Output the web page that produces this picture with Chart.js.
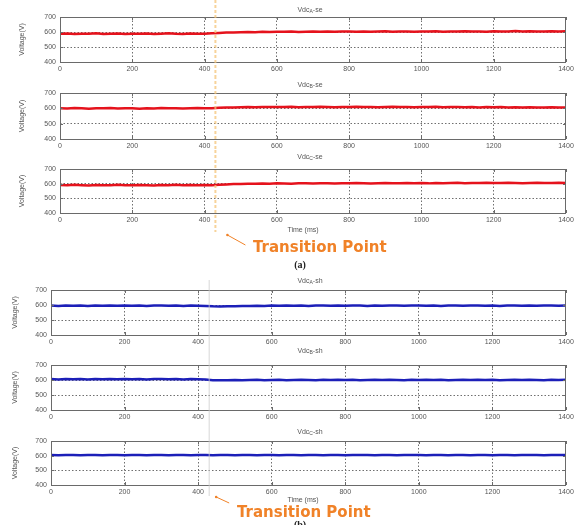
<!DOCTYPE html>
<html><head><meta charset="utf-8">
<script src="https://cdn.jsdelivr.net/npm/chart.js@4/dist/chart.umd.min.js"></script>
<style>
html,body{margin:0;padding:0;background:#fff;width:582px;height:525px;overflow:hidden;position:relative;}
canvas{position:absolute;left:0;display:block;}
</style></head><body>
<canvas id="c1" width="582" height="76" style="top:0px"></canvas>
<canvas id="c2" width="582" height="74" style="top:76px"></canvas>
<canvas id="c3" width="582" height="125" style="top:150px"></canvas>
<canvas id="c4" width="582" height="73" style="top:275px"></canvas>
<canvas id="c5" width="582" height="74" style="top:348px"></canvas>
<canvas id="c6" width="582" height="103" style="top:422px"></canvas>
<script>
// time axis (ms)
const timeMs = [0,20,40,60,80,100,120,140,160,180,200,220,240,260,280,300,320,340,360,380,400,420,440,460,480,500,520,540,560,580,600,620,640,660,680,700,720,740,760,780,800,820,840,860,880,900,920,940,960,980,1000,1020,1040,1060,1080,1100,1120,1140,1160,1180,1200,1220,1240,1260,1280,1300,1320,1340,1360,1380,1400];
const xTicks = [0,200,400,600,800,1000,1200,1400];
const yTicks = [400,500,600,700];
const transitionMs = 430;

// series (V)
const vdcAse = [588,590,587,589,588,591,587,588,590,586, 589,588,590,587,589,591,588,587,590,588, 589,591,594,596,597,598,600,599,601,600, 602,601,603,600,602,604,601,603,602,604, 603,601,604,602,603,605,602,604,603,601, 604,603,605,602,604,603,605,603,604,602, 605,603,604,606,603,605,604,603,605,604, 605];
const vdcBse = [601,599,602,600,598,601,600,602,599,601, 600,598,601,599,602,600,601,599,600,602, 600,601,603,605,606,607,608,607,609,608, 609,608,610,607,609,608,610,609,607,609, 608,610,608,609,607,609,610,608,609,607, 609,608,610,607,608,609,607,608,606,608, 607,608,606,607,605,607,606,605,607,606, 605];
const vdcCse = [591,589,592,590,588,591,590,589,592,590, 589,591,590,588,591,590,592,589,591,590, 591,590,593,595,597,598,599,600,601,600, 602,601,600,602,603,601,602,603,601,603, 602,604,603,601,603,604,602,603,605,603, 604,602,605,603,604,606,603,605,604,606, 605,604,606,605,603,605,606,604,605,606, 605];
const vdcAsh = [596,594,597,595,596,594,597,595,596,595, 597,595,596,594,596,597,595,596,594,596, 595,594,591,590,591,592,593,594,595,594, 596,595,597,595,596,594,596,597,595,596, 595,597,596,594,596,595,597,596,595,596, 597,595,596,594,596,597,595,596,597,595, 596,594,596,597,595,596,595,597,596,595, 596];
const vdcBsh = [606,604,607,605,606,604,607,605,606,605, 607,605,606,604,606,607,605,606,604,606, 605,603,599,598,599,600,599,600,601,599, 600,601,599,600,602,600,599,601,600,602, 600,601,599,600,601,600,602,600,599,601, 600,602,600,601,599,600,601,600,602,600, 601,599,600,602,600,601,600,599,601,600, 601];
const vdcCsh = [604,603,605,604,603,605,604,603,605,604, 603,605,604,603,604,605,603,604,605,603, 604,605,603,604,604,603,605,604,603,605, 604,603,605,604,603,604,605,603,604,605, 603,604,605,604,603,605,604,603,604,605, 604,603,605,604,603,604,605,603,604,604, 603,605,604,603,604,605,604,603,605,604, 604];

const RED = '#e5121c', BLUE = '#1c1fb8', ORANGE = '#f08228';
const FONT = 'Liberation Sans, Arial, sans-serif';
const TOPLINE = {color:'rgba(244,196,120,0.75)', w:2, dash:[3,2]};
const BOTLINE = {color:'rgba(205,205,205,0.8)', w:1, dash:[]};

const panels = [
  {id:'c1', data:vdcAse, sub:'A', suf:'-se', color:RED, left:60, top:17, bottom:62, titleY:10, ylabX:22, vline:TOPLINE, vFrom:0, vTo:76},
  {id:'c2', data:vdcBse, sub:'B', suf:'-se', color:RED, left:60, top:17, bottom:63, titleY:9, ylabX:22, vline:TOPLINE, vFrom:0, vTo:74},
  {id:'c3', data:vdcCse, sub:'C', suf:'-se', color:RED, left:60, top:19, bottom:63, titleY:7, ylabX:22, vline:TOPLINE, vFrom:0, vTo:82,
   timeY:80, arrow:{dx1:12, y1:85, dx2:30, y2:95}, tp:{x:253, y:98}, lab:{text:'(a)', x:300, y:115}},
  {id:'c4', data:vdcAsh, sub:'A', suf:'-sh', color:BLUE, left:51, top:15, bottom:60, titleY:6, ylabX:15, vline:BOTLINE, vFrom:5, vTo:73},
  {id:'c5', data:vdcBsh, sub:'B', suf:'-sh', color:BLUE, left:51, top:17, bottom:62, titleY:3, ylabX:15, vline:BOTLINE, vFrom:0, vTo:74},
  {id:'c6', data:vdcCsh, sub:'C', suf:'-sh', color:BLUE, left:51, top:19, bottom:63, titleY:10, ylabX:15, vline:BOTLINE, vFrom:0, vTo:74,
   timeY:78, arrow:{dx1:7, y1:75, dx2:20, y2:81}, tp:{x:237, y:91}, lab:{text:'(b)', x:300, y:103}},
];

function makeDeco(p){
  return {
    id:'deco',
    afterDatasetsDraw(chart){
      const ctx = chart.ctx, a = chart.chartArea, xs = chart.scales.x, ys = chart.scales.y;
      ctx.save();
      // frame
      ctx.strokeStyle = '#6a6a6a'; ctx.lineWidth = 1;
      ctx.strokeRect(Math.round(a.left)+0.5, Math.round(a.top)+0.5, Math.round(a.right-a.left)-1, Math.round(a.bottom-a.top));
      // inward ticks
      ctx.beginPath();
      xTicks.forEach(v=>{const x=Math.round(xs.getPixelForValue(v))+0.5; ctx.moveTo(x,a.bottom); ctx.lineTo(x,a.bottom-3); ctx.moveTo(x,a.top); ctx.lineTo(x,a.top+3);});
      yTicks.forEach(v=>{const y=Math.round(ys.getPixelForValue(v))+0.5; ctx.moveTo(a.left,y); ctx.lineTo(a.left+3,y); ctx.moveTo(a.right,y); ctx.lineTo(a.right-3,y);});
      ctx.stroke();
      // title with subscript
      ctx.fillStyle = '#555';
      ctx.textBaseline = 'middle';
      ctx.font = '7px ' + FONT;
      const w1 = ctx.measureText('Vdc').width;
      ctx.font = '5px ' + FONT;
      const w2 = ctx.measureText(p.sub).width;
      ctx.font = '7px ' + FONT;
      const w3 = ctx.measureText(p.suf).width;
      let tx = 310 - (w1+w2+w3)/2;
      ctx.textAlign = 'left';
      ctx.fillText('Vdc', tx, p.titleY);
      ctx.font = '5px ' + FONT;
      ctx.fillText(p.sub, tx+w1, p.titleY+2);
      ctx.font = '7px ' + FONT;
      ctx.fillText(p.suf, tx+w1+w2, p.titleY);
      // y label
      ctx.save();
      ctx.translate(p.ylabX, (a.top+a.bottom)/2);
      ctx.rotate(-Math.PI/2);
      ctx.textAlign = 'center';
      ctx.fillText('Voltage(V)', 0, 0);
      ctx.restore();
      // time label
      if (p.timeY){ ctx.textAlign='center'; ctx.fillText('Time (ms)', 303, p.timeY); }
      // transition line
      const tx0 = xs.getPixelForValue(transitionMs);
      ctx.strokeStyle = p.vline.color; ctx.lineWidth = p.vline.w; ctx.setLineDash(p.vline.dash);
      ctx.beginPath(); ctx.moveTo(tx0, p.vFrom); ctx.lineTo(tx0, p.vTo); ctx.stroke();
      ctx.setLineDash([]);
      if (p.arrow){
        ctx.strokeStyle = ORANGE; ctx.lineWidth = 1;
        const x1 = tx0 + p.arrow.dx1, x2 = tx0 + p.arrow.dx2;
        ctx.beginPath(); ctx.moveTo(x1,p.arrow.y1); ctx.lineTo(x2,p.arrow.y2); ctx.stroke();
        ctx.fillStyle = ORANGE;
        ctx.beginPath(); ctx.arc(x1,p.arrow.y1,1.3,0,Math.PI*2); ctx.fill();
        ctx.font = 'bold 15px "DejaVu Sans", sans-serif';
        ctx.textAlign = 'left';
        ctx.fillText('Transition Point', p.tp.x, p.tp.y);
        ctx.fillStyle = '#222';
        ctx.font = 'bold 10px "Liberation Serif", serif';
        ctx.textAlign = 'center';
        ctx.fillText(p.lab.text, p.lab.x, p.lab.y);
      }
      ctx.restore();
    }
  };
}

panels.forEach(p=>{
  const cv = document.getElementById(p.id);
  const H = cv.height;
  new Chart(cv, {
    type:'line',
    data:{ datasets:[{ data: timeMs.map((t,i)=>({x:t, y:p.data[i]})), borderColor:p.color, borderWidth:2.5, pointRadius:0, tension:0 }] },
    options:{
      responsive:false, animation:false, devicePixelRatio:1,
      layout:{ padding:{ left:0, right:16, top:p.top, bottom:0 } },
      plugins:{ legend:{display:false}, tooltip:{enabled:false}, title:{display:false} },
      scales:{
        x:{ type:'linear', min:0, max:1400,
            afterBuildTicks(s){ s.ticks = xTicks.map(v=>({value:v})); },
            afterFit(s){ s.height = H - p.bottom; },
            border:{display:false, dash:[1.5,2]},
            grid:{ drawTicks:false, color:(c)=> (c.tick && (c.tick.value===0||c.tick.value===1400)) ? 'rgba(0,0,0,0)' : '#6f6f6f', lineWidth:1 },
            ticks:{ font:{size:7, family:FONT}, color:'#555', padding:3, maxRotation:0, autoSkip:false, callback:(v)=>String(v) } },
        y:{ min:400, max:700,
            afterBuildTicks(s){ s.ticks = yTicks.map(v=>({value:v})); },
            afterFit(s){ s.width = p.left; },
            border:{display:false, dash:[1.5,2]},
            grid:{ drawTicks:false, color:(c)=> (c.tick && (c.tick.value===400||c.tick.value===700)) ? 'rgba(0,0,0,0)' : '#6f6f6f', lineWidth:1 },
            ticks:{ font:{size:7, family:FONT}, color:'#555', padding:4, callback:(v)=>String(v) } }
      }
    },
    plugins:[makeDeco(p)]
  });
});
</script>
</body></html>
